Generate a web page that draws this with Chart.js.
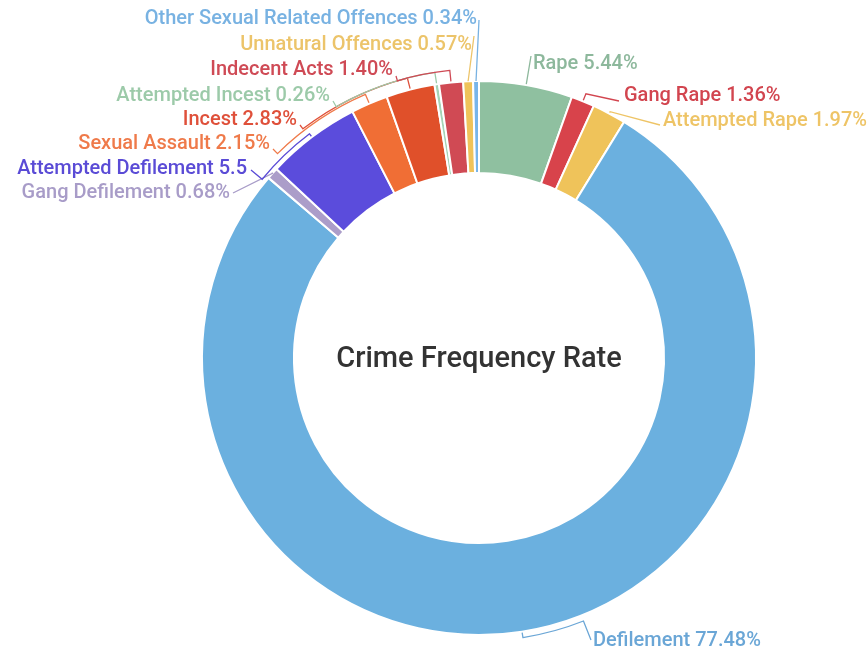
<!DOCTYPE html>
<html>
<head>
<meta charset="utf-8">
<script src="https://cdn.jsdelivr.net/npm/chart.js@4/dist/chart.umd.min.js"></script>
<style>
  html, body { margin: 0; padding: 0; background: #ffffff; }
  #wrap { width: 868px; height: 654px; }
</style>
</head>
<body>
<div id="wrap"><canvas id="c" width="868" height="654"></canvas></div>
<script>
// ---- data ----
const categories = [
  'Rape', 'Gang Rape', 'Attempted Rape', 'Defilement', 'Gang Defilement',
  'Attempted Defilement', 'Sexual Assault', 'Incest', 'Attempted Incest',
  'Indecent Acts', 'Unnatural Offences', 'Other Sexual Related Offences'
];
const values = [5.44, 1.36, 1.97, 77.48, 0.68, 5.5, 2.15, 2.83, 0.26, 1.40, 0.57, 0.34];
const valueLabels = ['5.44%', '1.36%', '1.97%', '77.48%', '0.68%', '5.5', '2.15%', '2.83%', '0.26%', '1.40%', '0.57%', '0.34%'];
const centerTitle = 'Crime Frequency Rate';

// ---- styles ----
const sliceColors = ['#8fc0a0', '#d8434b', '#efc35a', '#6bb0df', '#ab9dc9', '#5b4cdc',
                     '#f06e35', '#e0502a', '#a5d3b5', '#d04a54', '#efc35a', '#77b5ea'];
const labelColors = ['#8db89c', '#d2454f', '#eec466', '#6aa6d6', '#a89cc8', '#5a4bd6',
                     '#ef7a4a', '#df503a', '#9ccaa9', '#cf4a55', '#ecc46a', '#78b2e2'];
// label layout: text x, text y (middle), align, leader end x, leader end y, elbow offset, follow arc
const labelLayout = [
  [533, 64, 'left', 531, 56, 4, false],
  [624, 96, 'left', 619, 101, 8, false],
  [663, 121, 'left', 660, 125, 2, false],
  [593, 641, 'left', 591, 640, 6, true],
  [230, 193, 'right', 233, 193, 0, false],
  [247, 169, 'right', 251, 170, 4, true],
  [270, 144, 'right', 273, 149, 10, true],
  [297, 120, 'right', 300, 125, 12, true],
  [330, 96, 'right', 333, 101, 12, true],
  [393, 70, 'right', 396, 76, 12, true],
  [472, 45, 'right', 474, 36, 0, false],
  [477, 19, 'right', 479, 20, 0, false]
];

const leaderPlugin = {
  id: 'leaders',
  afterDatasetsDraw(chart) {
    const ctx = chart.ctx;
    const meta = chart.getDatasetMeta(0);
    ctx.save();
    meta.data.forEach((arc, i) => {
      const p = arc.getProps(['x', 'y', 'startAngle', 'endAngle', 'outerRadius'], true);
      const cx = p.x, cy = p.y;
      const mid = (p.startAngle + p.endAngle) / 2;
      const [tx, ty, align, ex, ey, elbow, follow] = labelLayout[i];
      const r0 = p.outerRadius + 1;
      const R = p.outerRadius + elbow;
      ctx.strokeStyle = labelColors[i];
      ctx.lineWidth = 1.3;
      ctx.beginPath();
      ctx.moveTo(cx + r0 * Math.cos(mid), cy + r0 * Math.sin(mid));
      ctx.lineTo(cx + R * Math.cos(mid), cy + R * Math.sin(mid));
      if (follow) {
        let a = Math.atan2(ey - cy, ex - cx);
        while (a < mid - Math.PI) a += 2 * Math.PI;
        while (a > mid + Math.PI) a -= 2 * Math.PI;
        ctx.arc(cx, cy, R, mid, a, a < mid);
      }
      ctx.lineTo(ex, ey);
      ctx.stroke();

      ctx.fillStyle = labelColors[i];
      ctx.font = '500 20px Roboto';
      ctx.textAlign = align;
      ctx.textBaseline = 'middle';
      ctx.fillText(categories[i] + ' ' + valueLabels[i], tx, ty);
    });
    // center title
    ctx.fillStyle = '#333333';
    ctx.font = '500 29px Roboto';
    ctx.textAlign = 'center';
    ctx.textBaseline = 'middle';
    const a0 = meta.data[0];
    ctx.fillText(centerTitle, a0.x, a0.y + 2);
    ctx.restore();
  }
};

new Chart(document.getElementById('c'), {
  type: 'doughnut',
  data: {
    labels: categories,
    datasets: [{
      data: values,
      backgroundColor: sliceColors,
      borderColor: '#ffffff',
      borderWidth: 2,
      hoverOffset: 0,
      offset: 0
    }]
  },
  options: {
    responsive: false,
    animation: false,
    devicePixelRatio: 1,
    radius: 277,
    cutout: '66.8%',
    layout: { padding: { left: 201, right: 111, top: 80, bottom: 18 } },
    plugins: {
      legend: { display: false },
      tooltip: { enabled: false },
      title: { display: false }
    },
    events: []
  },
  plugins: [leaderPlugin]
});
</script>
</body>
</html>
